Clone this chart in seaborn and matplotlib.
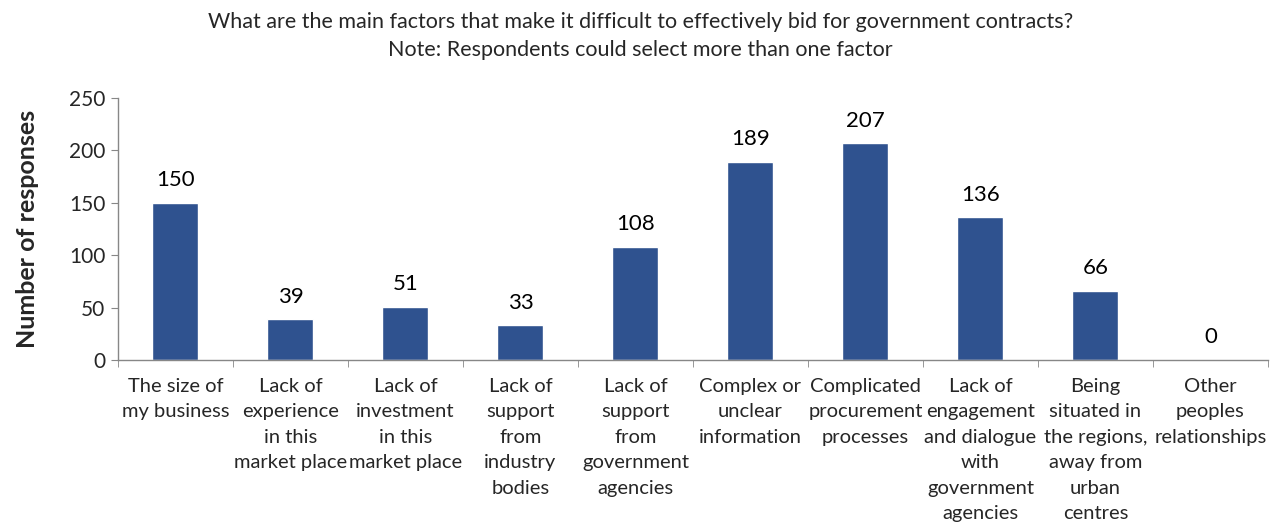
import pandas as pd
import seaborn as sns
import matplotlib.pyplot as plt
import numpy as np

factors = [
    "The size of\nmy business",
    "Lack of\nexperience\nin this\nmarket place",
    "Lack of\ninvestment\nin this\nmarket place",
    "Lack of\nsupport\nfrom\nindustry\nbodies",
    "Lack of\nsupport\nfrom\ngovernment\nagencies",
    "Complex or\nunclear\ninformation",
    "Complicated\nprocurement\nprocesses",
    "Lack of\nengagement\nand dialogue\nwith\ngovernment\nagencies",
    "Being\nsituated in\nthe regions,\naway from\nurban\ncentres",
    "Other\npeoples\nrelationships",
]
responses = [150, 39, 51, 33, 108, 189, 207, 136, 66, 0]
y_ticks = [0, 50, 100, 150, 200, 250]

df = pd.DataFrame({"Factor": factors, "Responses": responses})

sns.set_style("white")
plt.rcParams['font.family'] = ['Lato', 'DejaVu Sans']

fig = plt.figure(figsize=(12.81, 5.26), dpi=100)
ax = fig.add_axes([0.0921, 0.3156, 0.8977, 0.4981])

sns.barplot(data=df, x="Factor", y="Responses", color="#2F528F",
            width=0.4, saturation=1, ax=ax)

for i, v in enumerate(responses):
    ax.annotate(str(v), (i, v), xytext=(0, 9), textcoords="offset points",
                ha="center", va="bottom", fontsize=16, color="#000000")

ax.set_xlim(-0.5, len(factors) - 0.5)
ax.set_ylim(0, 250)
ax.set_yticks(y_ticks)
ax.set_xticks(range(len(factors)))
ax.set_xticklabels(factors, fontsize=14.5, linespacing=1.6, va="top")
ax.set_xticks(np.arange(-0.5, len(factors)), minor=True)
ax.tick_params(axis="x", which="major", length=0, pad=13)
ax.tick_params(axis="x", which="minor", length=5, color="#878787", direction="out", bottom=True)
ax.tick_params(axis="y", length=5, color="#878787", direction="out", left=True, labelsize=15, pad=4)

for s in ["top", "right"]:
    ax.spines[s].set_visible(False)
for s in ["left", "bottom"]:
    ax.spines[s].set_color("#878787")
    ax.spines[s].set_linewidth(1)

ax.set_xlabel("")
ax.set_ylabel("Number of responses", fontsize=18, fontweight="bold", labelpad=22)

fig.text(0.5, 0.958, "What are the main factors that make it difficult to effectively bid for government contracts?",
         ha="center", va="center", fontsize=15.5)
fig.text(0.5, 0.905, "Note: Respondents could select more than one factor",
         ha="center", va="center", fontsize=15.5)

plt.savefig("out.png", dpi=100)
